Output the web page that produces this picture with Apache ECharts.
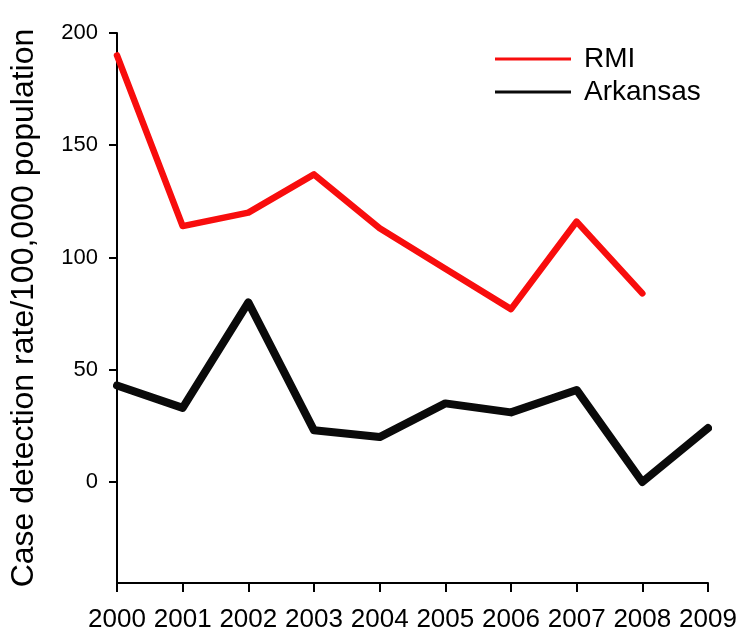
<!DOCTYPE html>
<html>
<head>
<meta charset="utf-8">
<script src="https://cdn.jsdelivr.net/npm/echarts@6/dist/echarts.min.js"></script>
<style>
  html, body { margin: 0; padding: 0; background: #fff; }
  #chart { width: 750px; height: 641px; }
</style>
</head>
<body>
<div id="chart"></div>
<script>
// years on the x axis
const years = ["2000", "2001", "2002", "2003", "2004", "2005", "2006", "2007", "2008", "2009"];
// case detection rate per 100,000 population
const rmi = [190, 114, 120, 137, 113, 95, 77, 116, 84, null];
const arkansas = [43, 33, 80, 23, 20, 35, 31, 41, 0, 24];
// y tick labels
const yTicks = [0, 50, 100, 150, 200];

const font = "Liberation Sans, Arial, sans-serif";

const chart = echarts.init(document.getElementById("chart"));

const option = {
  animation: false,
  backgroundColor: "#fff",
  grid: { left: 117, right: 42, top: 33, bottom: 58 },
  legend: {
    orient: "vertical",
    left: 490,
    top: 40,
    itemWidth: 76,
    itemHeight: 14,
    itemGap: 5,
    icon: "path://M0,0 L76,0 L76,3 L0,3 Z",
    textStyle: { fontFamily: font, fontSize: 28, color: "#000", padding: [0, 0, 0, 8] },
    data: ["RMI", "Arkansas"]
  },
  xAxis: {
    type: "category",
    data: years,
    boundaryGap: false,
    axisLine: { onZero: false, lineStyle: { color: "#000", width: 2 } },
    axisTick: { length: 9, lineStyle: { color: "#000", width: 2 } },
    axisLabel: { color: "#000", fontFamily: font, fontSize: 26, margin: 24, interval: 0 },
    splitLine: { show: false }
  },
  yAxis: {
    type: "value",
    min: -45,
    max: 200,
    name: "Case detection rate/100,000 population",
    nameLocation: "middle",
    nameGap: 77,
    nameTextStyle: { fontFamily: font, fontSize: 32, color: "#000" },
    axisLine: { show: true, lineStyle: { color: "#000", width: 2 } },
    axisTick: { show: true, length: 8, customValues: yTicks, lineStyle: { color: "#000", width: 2 } },
    axisLabel: { color: "#000", fontFamily: font, fontSize: 22, margin: 19, customValues: yTicks },
    splitLine: { show: false }
  },
  series: [
    {
      name: "RMI",
      type: "line",
      data: rmi,
      symbol: "none",
      itemStyle: { color: "#f80d0d" },
      lineStyle: { color: "#f80d0d", width: 6.5, cap: "round", join: "round" }
    },
    {
      name: "Arkansas",
      type: "line",
      data: arkansas,
      symbol: "none",
      itemStyle: { color: "#0a0a0a" },
      lineStyle: { color: "#0a0a0a", width: 8, cap: "round", join: "round" }
    }
  ]
};

chart.setOption(option);
</script>
</body>
</html>
